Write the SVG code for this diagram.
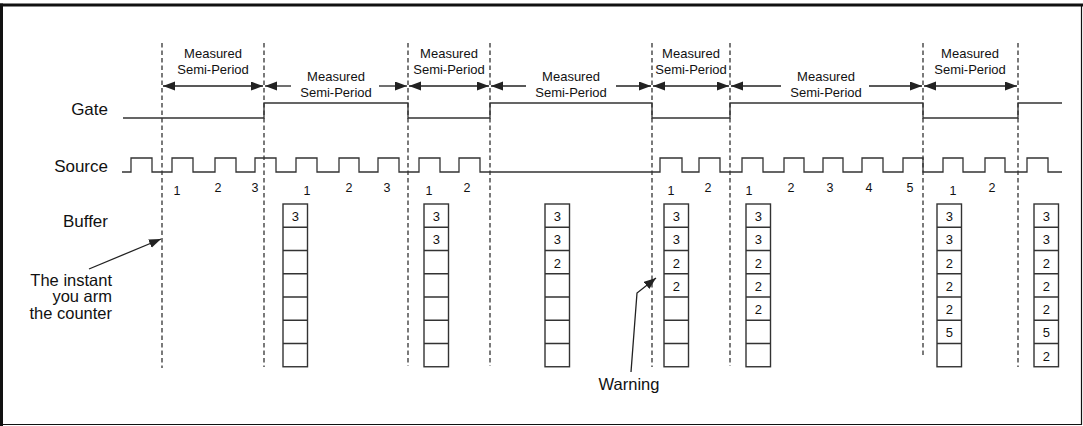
<svg xmlns="http://www.w3.org/2000/svg" xmlns:xlink="http://www.w3.org/1999/xlink" width="1083" height="426" viewBox="0 0 1083 426">
<style>
.t{font-family:"Liberation Sans",Arial,sans-serif;fill:#111}
.lbl{font-size:17px}
.sm{font-size:13px;text-anchor:middle}
.dg{font-size:12.5px;text-anchor:middle}
.bd{font-size:13px;text-anchor:middle}
.dash{stroke:#333;stroke-width:1.3;stroke-dasharray:4.5 3;fill:none}
.sig{stroke:#333;stroke-width:1.3;fill:none}
.arr{stroke:#222;stroke-width:1.3;fill:none}
.cell{stroke:#333;stroke-width:1.4;fill:#fff}
</style>
<defs>
<marker id="ah" markerUnits="userSpaceOnUse" markerWidth="13" markerHeight="10" refX="12" refY="4.5" orient="auto-start-reverse" viewBox="0 0 13 10">
<path d="M0,0 L12,4.5 L0,9 z" fill="#222"/>
</marker>
<g id="col">
<rect class="cell" x="0" y="0" width="24.5" height="162.75"/>
<path class="cell" d="M0,23.25 H24.5 M0,46.5 H24.5 M0,69.75 H24.5 M0,93 H24.5 M0,116.25 H24.5 M0,139.5 H24.5"/>
</g>
</defs>
<rect width="1083" height="426" fill="#fff"/>
<g id="frame" stroke="#111" fill="none">
<path d="M0,5 H1083" stroke-width="3"/>
<path d="M1.5,3.5 V426" stroke-width="3"/>
<path d="M1081.5,5 V424.5 H1.5" stroke-width="1.2"/>
</g>
<g id="dashed-lines">
<path class="dash" d="M162,43 V368"/>
<path class="dash" d="M264,43 V367"/>
<path class="dash" d="M408,43 V366"/>
<path class="dash" d="M490,43 V366"/>
<path class="dash" d="M652,43 V367"/>
<path class="dash" d="M730,43 V366"/>
<path class="dash" d="M923,43 V357"/>
<path class="dash" d="M1018,43 V367"/>
</g>
<g id="labels" class="t lbl" text-anchor="end">
<text x="108" y="115">Gate</text>
<text x="108" y="172">Source</text>
<text x="108" y="227">Buffer</text>
</g>
<g id="gate">
<path class="sig" d="M123,118 H264 V103 H408 V118 H490 V103 H652 V118 H730 V103 H923 V118 H1018 V103 H1062"/>
</g>
<g id="source">
<path class="sig" d="M122,172 H131 V158 H152 V172 H172 V158 H193 V172 H215 V158 H236 V172 H255 V158 H276 V172 H296 V158 H317 V172 H339 V158 H359 V172 H378 V158 H399 V172 H419 V158 H440 V172 H459 V158 H480 V172 H660 V158 H682 V172 H699 V158 H720 V172 H742 V158 H763 V172 H784 V158 H804 V172 H823 V158 H843 V172 H862 V158 H883 V172 H903 V158 H923 V172 H943 V158 H963 V172 H985 V158 H1005 V172 H1027 V158 H1048 V172 H1062"/>
</g>
<g id="source-counts" class="t dg">
<text x="177" y="195">1</text><text x="218" y="192">2</text><text x="255" y="192">3</text>
<text x="307" y="195">1</text><text x="349" y="192">2</text><text x="387" y="192">3</text>
<text x="429" y="195">1</text><text x="467" y="192">2</text>
<text x="671" y="195">1</text><text x="708" y="192">2</text>
<text x="749" y="195">1</text><text x="791" y="192">2</text><text x="830" y="192">3</text><text x="869" y="192">4</text><text x="910" y="192">5</text>
<text x="953" y="195">1</text><text x="992" y="192">2</text>
</g>
<g id="period-labels" class="t sm">
<text x="213" y="58">Measured</text><text x="213" y="74">Semi-Period</text>
<text x="336" y="81">Measured</text><text x="336" y="97">Semi-Period</text>
<text x="449" y="58">Measured</text><text x="449" y="74">Semi-Period</text>
<text x="571" y="81">Measured</text><text x="571" y="97">Semi-Period</text>
<text x="691" y="58">Measured</text><text x="691" y="74">Semi-Period</text>
<text x="826" y="81">Measured</text><text x="826" y="97">Semi-Period</text>
<text x="970" y="58">Measured</text><text x="970" y="74">Semi-Period</text>
</g>
<g id="connectors">
<path class="arr" d="M163,86 H263" marker-start="url(#ah)" marker-end="url(#ah)"/>
<path class="arr" d="M291,86 H265" marker-end="url(#ah)"/>
<path class="arr" d="M379,86 H407" marker-end="url(#ah)"/>
<path class="arr" d="M409,86 H489" marker-start="url(#ah)" marker-end="url(#ah)"/>
<path class="arr" d="M526,86 H491" marker-end="url(#ah)"/>
<path class="arr" d="M616,86 H651" marker-end="url(#ah)"/>
<path class="arr" d="M653,86 H729" marker-start="url(#ah)" marker-end="url(#ah)"/>
<path class="arr" d="M781,86 H731" marker-end="url(#ah)"/>
<path class="arr" d="M869,86 H922" marker-end="url(#ah)"/>
<path class="arr" d="M924,86 H1017" marker-start="url(#ah)" marker-end="url(#ah)"/>
<path class="arr" d="M89,269 L161,239" marker-end="url(#ah)"/>
<path class="arr" d="M631,372 L637,293 L656,278" marker-end="url(#ah)"/>
</g>
<g id="note-arm" class="t" font-size="16.5" text-anchor="end">
<text x="112" y="286">The instant</text>
<text x="112" y="302">you arm</text>
<text x="112" y="319">the counter</text>
</g>
<g id="note-warning" class="t" font-size="16.5" text-anchor="middle">
<text x="629" y="390">Warning</text>
</g>
<g id="buffer-1"><use xlink:href="#col" x="283" y="204"/>
<g class="t bd"><text x="295.3" y="221">3</text></g></g>
<g id="buffer-2"><use xlink:href="#col" x="424" y="204"/>
<g class="t bd"><text x="436.3" y="221">3</text><text x="436.3" y="244.3">3</text></g></g>
<g id="buffer-3"><use xlink:href="#col" x="545" y="204"/>
<g class="t bd"><text x="557.3" y="221">3</text><text x="557.3" y="244.3">3</text><text x="557.3" y="267.5">2</text></g></g>
<g id="buffer-4"><use xlink:href="#col" x="664" y="204"/>
<g class="t bd"><text x="676.3" y="221">3</text><text x="676.3" y="244.3">3</text><text x="676.3" y="267.5">2</text><text x="676.3" y="290.8">2</text></g></g>
<g id="buffer-5"><use xlink:href="#col" x="746" y="204"/>
<g class="t bd"><text x="758.3" y="221">3</text><text x="758.3" y="244.3">3</text><text x="758.3" y="267.5">2</text><text x="758.3" y="290.8">2</text><text x="758.3" y="314">2</text></g></g>
<g id="buffer-6"><use xlink:href="#col" x="937" y="204"/>
<g class="t bd"><text x="949.3" y="221">3</text><text x="949.3" y="244.3">3</text><text x="949.3" y="267.5">2</text><text x="949.3" y="290.8">2</text><text x="949.3" y="314">2</text><text x="949.3" y="337.3">5</text></g></g>
<g id="buffer-7"><use xlink:href="#col" x="1034" y="204"/>
<g class="t bd"><text x="1046.3" y="221">3</text><text x="1046.3" y="244.3">3</text><text x="1046.3" y="267.5">2</text><text x="1046.3" y="290.8">2</text><text x="1046.3" y="314">2</text><text x="1046.3" y="337.3">5</text><text x="1046.3" y="360.5">2</text></g></g>
</svg>
